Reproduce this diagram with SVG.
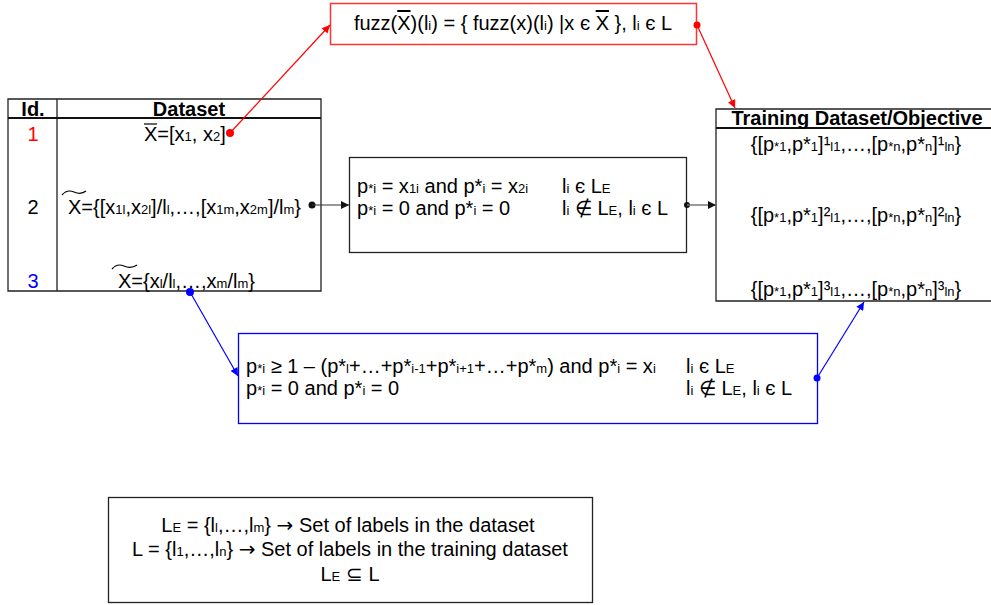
<svg xmlns="http://www.w3.org/2000/svg" width="991" height="605" viewBox="0 0 991 605">
<defs>
<style>
text{font-family:"Liberation Sans",Arial,sans-serif;font-size:20px;fill:#000}
.b{font-weight:bold}
.s{font-size:13px}
.c{text-anchor:middle}
.arw{font-family:"DejaVu Sans",sans-serif;font-size:20px}
.box{fill:#fff;stroke:#222;stroke-width:1.3}
.ln{fill:none;stroke:#222;stroke-width:1.3}
.ov{text-decoration:overline}
</style>
<marker id="ak" viewBox="0 0 10 10" refX="10" refY="5" markerWidth="9" markerHeight="8" markerUnits="userSpaceOnUse" orient="auto"><path d="M0,0L10,5L0,10z" fill="#111"/></marker>
<marker id="ar" viewBox="0 0 10 10" refX="10" refY="5" markerWidth="10" markerHeight="8" markerUnits="userSpaceOnUse" orient="auto"><path d="M0,0L10,5L0,10z" fill="#f00"/></marker>
<marker id="ab" viewBox="0 0 10 10" refX="10" refY="5" markerWidth="10" markerHeight="8" markerUnits="userSpaceOnUse" orient="auto"><path d="M0,0L10,5L0,10z" fill="#00f"/></marker>
</defs>
<rect width="991" height="605" fill="#fff"/>

<g id="fuzz-box">
<rect x="330.5" y="3.5" width="366" height="41" fill="#fff" stroke="#f33" stroke-width="1.5"/>
<text x="513" y="30" class="c">fuzz(<tspan class="ov">X</tspan>)(l<tspan class="s">i</tspan>) = { fuzz(x)(l<tspan class="s">i</tspan>) |x є <tspan class="ov">X</tspan> }, l<tspan class="s">i</tspan> є L</text>
</g>

<g id="dataset-table">
<path class="ln" d="M8,99H321V291H8Z M57,99V291"/>
<path d="M8,118H321" stroke="#111" stroke-width="2"/>
<text x="33" y="116" class="b c">Id.</text>
<text x="189" y="116" class="b c">Dataset</text>
<text x="33" y="141" class="c" style="fill:#f00">1</text>
<text x="144" y="141">X=[x<tspan class="s">1</tspan>, x<tspan class="s">2</tspan>]</text>
<path d="M144,124H157" stroke="#000" stroke-width="1.2"/>
<text x="33" y="214" class="c">2</text>
<text x="68" y="214">X={[x<tspan class="s">1l</tspan>,x<tspan class="s">2l</tspan>]/l<tspan class="s">l</tspan>,…,[x<tspan class="s">1m</tspan>,x<tspan class="s">2m</tspan>]/l<tspan class="s">m</tspan>}</text>
<path d="M62,195Q67,189 74,192T86,191" fill="none" stroke="#000" stroke-width="1.2"/>
<text x="33" y="288" class="c" style="fill:#00f">3</text>
<text x="118" y="288">X={x<tspan class="s">l</tspan>/l<tspan class="s">l</tspan>,…,x<tspan class="s">m</tspan>/l<tspan class="s">m</tspan>}</text>
<path d="M112,269Q117,263 124,266T137,265" fill="none" stroke="#000" stroke-width="1.2"/>
</g>

<g id="mapping-box">
<rect class="box" x="349.5" y="157.5" width="337" height="95"/>
<text x="357" y="193">p<tspan class="s">*i</tspan> = x<tspan class="s">1i</tspan> and p*<tspan class="s">i</tspan> = x<tspan class="s">2i</tspan></text>
<text x="562" y="193">l<tspan class="s">i</tspan> є L<tspan class="s">E</tspan></text>
<text x="357" y="215">p<tspan class="s">*i</tspan> = 0 and p*<tspan class="s">i</tspan> = 0</text>
<text x="562" y="215">l<tspan class="s">i</tspan> ∉ L<tspan class="s">E</tspan>, l<tspan class="s">i</tspan> є L</text>
</g>

<g id="training-box">
<path class="ln" d="M995,109H716V301H995"/>
<path d="M716,128H995" stroke="#111" stroke-width="2"/>
<text x="857" y="125" class="b c">Training Dataset/Objective</text>
<text x="856" y="151" class="c">{[p<tspan class="s">*1</tspan>,p*<tspan class="s">1</tspan>]¹<tspan class="s">l1</tspan>,…,[p<tspan class="s">*n</tspan>,p*<tspan class="s">n</tspan>]¹<tspan class="s">ln</tspan>}</text>
<text x="856" y="222" class="c">{[p<tspan class="s">*1</tspan>,p*<tspan class="s">1</tspan>]²<tspan class="s">l1</tspan>,…,[p<tspan class="s">*n</tspan>,p*<tspan class="s">n</tspan>]²<tspan class="s">ln</tspan>}</text>
<text x="856" y="296" class="c">{[p<tspan class="s">*1</tspan>,p*<tspan class="s">1</tspan>]³<tspan class="s">l1</tspan>,…,[p<tspan class="s">*n</tspan>,p*<tspan class="s">n</tspan>]³<tspan class="s">ln</tspan>}</text>
</g>

<g id="fuzzy-box">
<rect x="238.5" y="333.5" width="579" height="90" fill="#fff" stroke="#00f" stroke-width="1.3"/>
<text x="246" y="373">p<tspan class="s">*i</tspan> ≥ 1 – (p*<tspan class="s">l</tspan>+…+p*<tspan class="s">i-1</tspan>+p*<tspan class="s">i+1</tspan>+…+p*<tspan class="s">m</tspan>) and p*<tspan class="s">i</tspan> = x<tspan class="s">i</tspan></text>
<text x="686" y="373">l<tspan class="s">i</tspan> є L<tspan class="s">E</tspan></text>
<text x="246" y="395">p<tspan class="s">*i</tspan> = 0 and p*<tspan class="s">i</tspan> = 0</text>
<text x="686" y="395">l<tspan class="s">i</tspan> ∉ L<tspan class="s">E</tspan>, l<tspan class="s">i</tspan> є L</text>
</g>

<g id="legend-box">
<rect class="box" x="108.5" y="497.5" width="484" height="105"/>
<text x="348" y="532" class="c">L<tspan class="s">E</tspan> = {l<tspan class="s">l</tspan>,…,l<tspan class="s">m</tspan>} <tspan class="arw">→</tspan> Set of labels in the dataset</text>
<text x="350" y="556" class="c">L = {l<tspan class="s">1</tspan>,…,l<tspan class="s">n</tspan>} <tspan class="arw">→</tspan> Set of labels in the training dataset</text>
<text x="350" y="581" class="c">L<tspan class="s">E</tspan> ⊆ L</text>
</g>

<g id="connectors">
<circle cx="230" cy="133" r="4" fill="#f00"/>
<line x1="230" y1="133" x2="330" y2="25" stroke="#f00" stroke-width="1.2" marker-end="url(#ar)"/>
<circle cx="697" cy="25" r="3.5" fill="#f00"/>
<line x1="697" y1="25" x2="735" y2="108" stroke="#f00" stroke-width="1.2" marker-end="url(#ar)"/>
<circle cx="312" cy="205" r="3.5" fill="#111"/>
<line x1="312" y1="205" x2="349" y2="205" stroke="#333" stroke-width="1.2" marker-end="url(#ak)"/>
<circle cx="687" cy="205" r="3" fill="#111"/>
<line x1="687" y1="205" x2="716" y2="205" stroke="#777" stroke-width="1.5" marker-end="url(#ak)"/>
<circle cx="190" cy="292" r="4" fill="#00f"/>
<line x1="190" y1="292" x2="238" y2="376" stroke="#00f" stroke-width="1.2" marker-end="url(#ab)"/>
<circle cx="817" cy="378" r="3.5" fill="#00f"/>
<line x1="817" y1="378" x2="864" y2="302" stroke="#00f" stroke-width="1.2" marker-end="url(#ab)"/>
</g>
</svg>
